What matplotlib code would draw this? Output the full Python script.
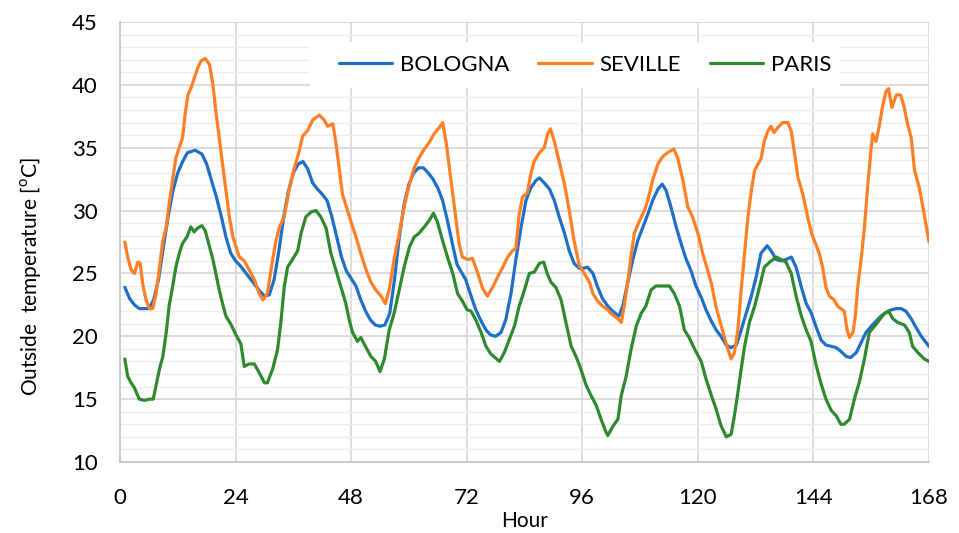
import matplotlib
matplotlib.use("Agg")
import matplotlib.pyplot as plt
from matplotlib.ticker import MultipleLocator
from matplotlib.patches import Rectangle
from matplotlib import font_manager

# ---------------- data ----------------
bologna_h = [1, 2, 3, 4, 5, 6, 7, 8, 9, 10, 11, 12, 13, 14, 15.6, 17, 18, 19, 20, 21, 22, 23,
             24, 25, 26, 27, 28, 29, 30, 31, 32, 33, 34, 35, 36, 37, 38, 39, 40, 41, 42, 43, 44, 45, 46, 47,
             48, 49, 50, 51, 52, 53, 54, 55, 56, 57, 58, 59, 60, 61, 62, 63, 64, 65, 66, 67, 68, 69, 70,
             71.8, 72.9, 73.9, 75, 76, 77, 78, 79.1, 80.1, 81.2, 82.2, 83.3, 84.3, 85.3, 86.4, 87.1, 88.1,
             89.2, 90.2, 91.2, 92.3, 93.3, 94.3, 95.4,
             96.1, 97.1, 98.2, 99.2, 100.2, 101.3, 102.3, 103.6, 104.4, 105.4, 106.5, 107.5, 108.6, 109.6,
             110.6, 111.7, 112.6, 113.4, 114.4, 115.5, 116.5, 117.5, 118.6,
             119.6, 120.7, 121.7, 122.8, 123.8, 124.8, 125.9, 126.9, 128, 129, 130, 131.1, 132.1, 133.1,
             134.4, 135.2, 136.3, 137.3, 138.3, 139.4, 140.4, 141.5, 142.5,
             143.5, 144.5, 145.6, 146.6, 147.7, 148.7, 149.7, 150.8, 151.7, 152.9, 153.9, 154.9, 156, 157,
             158, 159.1, 160.1, 161.2, 162.2, 163.2, 164.3, 165.3, 166.4, 167.4, 168]
bologna_t = [23.9, 23.0, 22.5, 22.2, 22.2, 22.2, 22.9, 24.5, 27.1, 29.5, 31.6, 33.0, 33.9, 34.6, 34.8, 34.5, 33.7, 32.4, 31.1, 29.6, 27.9, 26.6,
             26.0, 25.6, 25.1, 24.6, 24.1, 23.6, 23.2, 23.3, 24.5, 26.8, 29.5, 31.6, 33.0, 33.7, 33.9, 33.3, 32.2, 31.7, 31.3, 30.8, 29.5, 27.9, 26.3, 25.2,
             24.6, 24.0, 22.9, 22.0, 21.3, 20.9, 20.8, 20.9, 21.8, 24.5, 27.9, 30.5, 32.1, 33.0, 33.4, 33.4, 33.0, 32.5, 31.8, 30.8, 29.2, 27.4, 25.7,
             24.5, 23.2, 22.1, 21.2, 20.5, 20.1, 20.0, 20.3, 21.3, 23.4, 26.1, 28.7, 30.8, 31.8, 32.4, 32.6, 32.2,
             31.7, 30.8, 29.5, 28.2, 26.8, 25.8, 25.4,
             25.4, 25.5, 25.0, 23.9, 23.0, 22.4, 22.0, 21.6, 22.4, 24.2, 26.1, 27.6, 28.7, 29.7,
             30.8, 31.7, 32.1, 31.6, 30.3, 28.7, 27.4, 26.2, 25.2,
             24.0, 23.1, 22.1, 21.2, 20.5, 20.0, 19.3, 19.1, 19.3, 20.5, 21.8, 23.2, 24.7, 26.6,
             27.2, 26.8, 26.1, 26.0, 26.1, 26.3, 25.5, 23.9, 22.6,
             21.9, 20.8, 19.7, 19.3, 19.2, 19.1, 18.8, 18.4, 18.3, 18.7, 19.5, 20.3, 20.8, 21.2,
             21.6, 21.9, 22.1, 22.2, 22.2, 22.0, 21.4, 20.7, 20.0, 19.5, 19.2]

seville_h = [1, 1.6, 2.3, 3, 3.7, 4.2, 4.7, 5.4, 6.1, 6.8, 7.5, 8.2, 8.9, 9.6, 10.2, 10.9, 11.6, 12.3, 13,
             13.5, 14.1, 14.7, 15.4, 16.1, 16.8, 17.7, 18.6, 19.3, 19.9, 20.6, 21.3, 22, 22.7, 23.4,
             24, 24.8, 25.8, 26.8, 27.9, 28.9, 29.7, 30.6, 31.7, 32.4, 33.1, 34.1, 35.1, 36.2, 37.2, 37.9,
             39, 40, 41.4, 42.4, 43.1, 44.2, 44.8, 45.5, 46.2,
             47.9, 49, 50, 51.1, 52.1, 53.1, 54.2, 55.1, 55.9, 56.9, 58, 59, 60.1, 61.1, 62.1, 63.2, 64.2,
             65.2, 66.3, 67, 67.7, 68.4, 69.1, 69.8, 70.4, 71.1,
             72.2, 73.2, 74.3, 75.3, 76.3, 77.4, 78.4, 79.5, 80.5, 81.5, 82.2, 82.9, 83.6, 84.6, 85.3, 86,
             87.1, 88.1, 88.8, 89.4, 90.2, 91.2, 92.3, 93.3, 94.3, 95.4, 96.4,
             97.5, 98.2, 99.2, 100.2, 101.3, 102.3, 103.4, 104.1, 104.7, 105.4, 106.1, 106.8, 107.9, 108.9,
             109.6, 110.6, 111.7, 112.7, 113.7, 115, 115.8, 116.9, 117.9, 118.9,
             120, 121, 122, 122.8, 123.8, 124.8, 125.9, 126.9,
             127.6, 128.3, 129, 129.7, 130.4, 131.1, 131.8, 132.5, 133.1, 133.8, 134.5, 135.2, 135.8, 136.6,
             137.6, 138.7, 139.4, 140.1, 140.8, 141.8, 142.8, 143.6,
             144.2, 145.2, 145.9, 146.6, 147.3, 148.3, 149, 149.7, 150.4, 151, 151.5, 152.2, 152.7, 153.2,
             153.9, 154.6, 155.3, 156, 156.3, 157, 157.7, 158.4, 159.1, 159.6, 160.3, 161.2, 162.1, 162.8,
             163.6, 164.3, 165, 166, 167, 168]
seville_t = [27.5, 26.3, 25.3, 25.0, 25.9, 25.8, 24.2, 22.9, 22.2, 22.2, 23.4, 25.5, 27.6, 28.7, 30.5, 32.4, 34.2, 35.0, 35.8,
             37.6, 39.2, 39.7, 40.5, 41.3, 41.9, 42.1, 41.6, 40.0, 37.9, 35.8, 33.7, 31.6, 29.5, 28.0,
             27.2, 26.3, 26.0, 25.3, 24.5, 23.4, 22.9, 23.4, 26.1, 27.6, 28.7, 29.5, 31.6, 33.4, 34.7, 35.9,
             36.4, 37.2, 37.6, 37.2, 36.7, 36.9, 35.5, 33.4, 31.3,
             29.2, 27.9, 26.6, 25.3, 24.3, 23.7, 23.2, 22.6, 23.7, 26.1, 28.2, 30.3, 32.1, 33.4, 34.2, 34.9, 35.4,
             36.1, 36.6, 37.0, 35.5, 33.4, 31.3, 29.2, 27.4, 26.3,
             26.1, 26.2, 25.0, 23.8, 23.2, 23.9, 24.7, 25.5, 26.3, 26.8, 27.0, 29.7, 31.1, 31.4, 32.9, 33.9,
             34.6, 35.0, 36.1, 36.5, 35.5, 33.9, 32.1, 30.0, 27.6, 25.6, 25.0,
             24.3, 23.4, 22.8, 22.4, 22.1, 21.7, 21.4, 21.1, 22.4, 24.2, 26.3, 28.2, 29.2, 30.0,
             30.8, 32.4, 33.7, 34.3, 34.6, 34.9, 34.2, 32.4, 30.3, 29.5,
             28.2, 26.6, 25.3, 24.2, 22.3, 20.9, 19.4, 18.2,
             18.7, 20.5, 23.7, 26.6, 29.5, 31.6, 33.2, 33.7, 34.1, 35.5, 36.3, 36.7, 36.2, 36.6,
             37.0, 37.0, 36.3, 34.5, 32.6, 31.3, 29.5, 28.2,
             27.6, 26.6, 25.5, 23.9, 23.2, 22.9, 22.4, 22.2, 22.0, 20.5, 19.9, 20.3, 21.6, 23.9,
             26.1, 28.7, 32.1, 35.0, 36.1, 35.5, 36.8, 38.4, 39.5, 39.7, 38.2, 39.2, 39.2, 38.3,
             36.8, 35.8, 33.2, 31.8, 29.7, 27.5]

paris_h = [1, 1.6, 2.3, 3, 4, 5.1, 6.1, 6.9, 7.5, 8.2, 8.9, 9.6, 10.2, 10.9, 11.6, 12.3, 13, 13.9, 14.7,
           15.4, 16.1, 17, 17.7, 18.6, 19.3, 19.9, 20.6, 21.3, 22, 23.1, 24.1, 25.1,
           25.8, 26.8, 27.9, 28.9, 30, 30.6, 31.7, 32.7, 33.4, 34.1, 34.8, 35.8, 36.9, 37.6, 38.6, 39.7,
           40.7, 41.7, 42.8, 43.8, 44.8, 45.9, 46.9,
           47.6, 48.3, 49.3, 50, 51.1, 52.1, 53.1, 54, 54.9, 55.9, 56.9, 58, 59, 60.1, 61.1, 62.1, 63.2,
           64.2, 65.1, 65.9, 67, 68, 69.1, 70.1, 71.1, 72.1,
           72.9, 73.9, 75, 76, 77, 78.8, 79.8, 80.8, 81.9, 82.9, 84, 85, 86, 87.1, 88, 88.7, 89.5, 90.5,
           91.6, 92.6, 93.7, 94.7, 95.7,
           96.8, 97.8, 98.9, 99.9, 100.9, 101.3, 102.3, 103.4, 104.1, 105.1, 106.1, 107.2, 108.2, 109.2,
           110.3, 111.3, 112.7, 114.1, 115.1, 116.2, 117.2, 118.2, 119.3,
           120.7, 121.7, 122.8, 123.8, 124.8, 125.9, 126.9, 127.6, 128.3, 129, 129.7, 130.7, 131.8, 132.8,
           133.8, 134.9, 136.3, 137.3, 138.3, 139.4, 140.4, 141.5, 142.5,
           143.5, 144.5, 145.6, 146.6, 147.7, 148.7, 149.7, 150.4, 151.5, 152.5, 153.5, 154.6, 155.6,
           156.7, 157.7, 158.7, 159.6, 160.5, 161.5, 162.9, 163.9, 164.6, 165.7, 167, 168]
paris_t = [18.2, 16.8, 16.3, 15.9, 15.0, 14.9, 15.0, 15.0, 16.1, 17.4, 18.4, 20.3, 22.4, 23.9, 25.5, 26.6, 27.4, 27.9, 28.7,
           28.3, 28.6, 28.8, 28.4, 27.1, 26.1, 25.0, 23.7, 22.6, 21.6, 20.9, 20.1, 19.4,
           17.6, 17.8, 17.8, 17.1, 16.3, 16.3, 17.4, 18.9, 21.1, 23.9, 25.5, 26.1, 26.8, 28.2, 29.5, 29.9,
           30.0, 29.5, 28.6, 26.6, 25.3, 23.9, 22.6,
           21.3, 20.3, 19.6, 19.9, 19.1, 18.4, 18.0, 17.2, 18.2, 20.5, 21.8, 23.7, 25.5, 27.1, 27.9, 28.2, 28.7,
           29.2, 29.8, 29.1, 27.6, 26.3, 25.0, 23.4, 22.8, 22.1,
           22.0, 21.3, 20.3, 19.2, 18.6, 18.0, 18.7, 19.7, 20.8, 22.4, 23.7, 25.0, 25.1, 25.8, 25.9, 25.0, 24.3, 23.9,
           22.9, 21.1, 19.2, 18.4, 17.4,
           16.1, 15.3, 14.5, 13.4, 12.4, 12.1, 12.8, 13.4, 15.3, 16.8, 18.9, 20.8, 21.8, 22.4,
           23.7, 24.0, 24.0, 24.0, 23.4, 22.4, 20.5, 19.9, 19.0,
           18.0, 16.6, 15.3, 14.2, 12.9, 12.0, 12.2, 13.7, 15.5, 17.4, 19.2, 21.1, 22.4, 23.9,
           25.5, 25.9, 26.3, 26.1, 25.9, 25.0, 23.2, 21.6, 20.5,
           19.6, 17.8, 16.2, 15.0, 14.1, 13.7, 13.0, 13.0, 13.4, 15.0, 16.3, 18.2, 20.3,
           20.8, 21.3, 21.8, 22.0, 21.4, 21.1, 20.9, 20.3, 19.2, 18.7, 18.2, 18.0]

series_names = ["BOLOGNA", "SEVILLE", "PARIS"]
series_colors = ["#1f6fc6", "#ff7f27", "#2f8a2f"]
x_ticks = [0, 24, 48, 72, 96, 120, 144, 168]
y_ticks = [10, 15, 20, 25, 30, 35, 40, 45]

# ---------------- fonts ----------------
avail = {f.name for f in font_manager.fontManager.ttflist}
main_font = "Lato" if "Lato" in avail else "DejaVu Sans"
plt.rcParams['font.family'] = [main_font, 'DejaVu Sans']
plt.rcParams['mathtext.fontset'] = 'custom'
plt.rcParams['mathtext.rm'] = main_font

fig = plt.figure(figsize=(9.59, 5.33), dpi=100)
ax = fig.add_axes([120/959, (533-462)/533, (929-120)/959, (462-22)/533])

for hrs, temps, name, col in zip([bologna_h, seville_h, paris_h],
                                 [bologna_t, seville_t, paris_t],
                                 series_names, series_colors):
    ax.plot(hrs, temps, color=col, lw=2.3, label=name,
            solid_joinstyle='round', solid_capstyle='round', zorder=3)

ax.set_xlim(0, 168)
ax.set_ylim(10, 45)
ax.set_xticks(x_ticks)
ax.set_yticks(y_ticks)
ax.yaxis.set_minor_locator(MultipleLocator(1))
ax.grid(which='major', axis='both', color='#d9d9d9', lw=1.3, zorder=0)
ax.grid(which='minor', axis='y', color='#eeeeee', lw=1.0, zorder=0)
ax.set_axisbelow(True)
for s in ['top', 'right']:
    ax.spines[s].set_visible(False)
for s in ['left', 'bottom']:
    ax.spines[s].set_color('#c8c8c8')
    ax.spines[s].set_linewidth(1.3)
ax.tick_params(which='both', length=0, labelsize=16)
ax.tick_params(axis='x', pad=19)
ax.tick_params(axis='y', pad=16)

ax.set_xlabel("Hour", fontsize=15, va='center')
ax.xaxis.set_label_coords(0.5, (462 - 521) / 440)
ax.set_ylabel("Outside  temperature [$^{\\mathrm{o}}$C]", fontsize=15, va='center')
ax.yaxis.set_label_coords((30 - 120) / 809, (462 - 277) / 440)

# white legend background box (layout only)
ax.add_patch(Rectangle(((310 - 120) / 809, (462 - 88) / 440), (840 - 310) / 809, 46 / 440,
                       transform=ax.transAxes, facecolor='white', edgecolor='none', zorder=2))
leg = ax.legend(loc='center', bbox_to_anchor=((585 - 120) / 809, (462 - 65) / 440), ncol=3,
                frameon=False, fontsize=16, handlelength=2.4, columnspacing=1.3,
                handletextpad=0.35, borderpad=0.3)
leg.set_zorder(4)

fig.savefig("out.png", dpi=100)
